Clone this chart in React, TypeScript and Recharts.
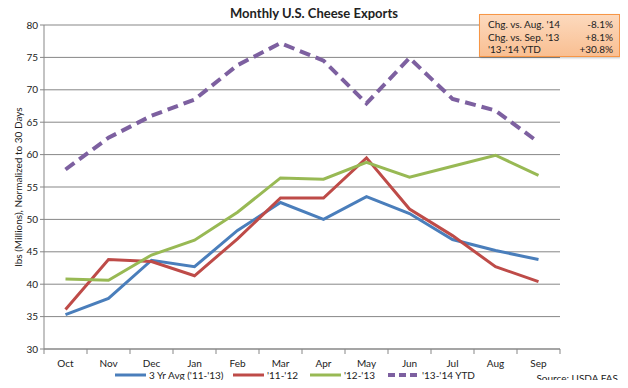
import { LineChart, Line, XAxis, YAxis, CartesianGrid } from 'recharts'

const months = ['Oct', 'Nov', 'Dec', 'Jan', 'Feb', 'Mar', 'Apr', 'May', 'Jun', 'Jul', 'Aug', 'Sep']
const avg3yr = [35.3, 37.8, 43.7, 42.7, 48.3, 52.6, 50.0, 53.5, 50.9, 46.9, 45.2, 43.8]
const y1112 = [36.1, 43.8, 43.5, 41.3, 47.0, 53.3, 53.3, 59.5, 51.6, 47.5, 42.7, 40.4]
const y1213 = [40.8, 40.6, 44.5, 46.8, 51.1, 56.4, 56.2, 58.8, 56.5, 58.2, 59.9, 56.8]
const y1314 = [57.7, 62.6, 66.0, 68.5, 73.8, 77.2, 74.5, 67.9, 74.9, 68.6, 66.8, 61.9]
const yTicks = [30, 35, 40, 45, 50, 55, 60, 65, 70, 75, 80]

const changeRows = [
  ['Chg. vs. Aug. \'14', '-8.1%'],
  ['Chg. vs. Sep. \'13', '+8.1%'],
  ['\'13-\'14 YTD', '+30.8%'],
]

const data = months.map((m, i) => ({
  month: m,
  avg: avg3yr[i],
  a: y1112[i],
  b: y1213[i],
  c: y1314[i],
}))

const font = 'Lato, "Open Sans", sans-serif'
const gridColor = '#878787'
const band = 43

const MonthTick = (props: any) => {
  const { x, y, payload, index } = props
  const half = band / 2
  return (
    <g>
      <line x1={x - half} x2={x - half} y1={y - 8} y2={y - 3} stroke={gridColor} />
      {index === months.length - 1 && (
        <line x1={x + half} x2={x + half} y1={y - 8} y2={y - 3} stroke={gridColor} />
      )}
      <text x={x} y={y + 10} textAnchor="middle" fontSize={10} fill="#222" fontFamily={font}>
        {payload.value}
      </text>
    </g>
  )
}

const legendItems = [
  { label: "3 Yr Avg ('11-'13)", color: '#4a7ebb', dash: false, x: 115 },
  { label: "'11-'12", color: '#be4b48', dash: false, x: 233 },
  { label: "'12-'13", color: '#98b954', dash: false, x: 310 },
  { label: "'13-'14 YTD", color: '#7d60a0', dash: true, x: 388 },
]

export default function App() {
  return (
    <div style={{ position: 'relative', width: 628, height: 388, margin: -8, background: '#fff', fontFamily: font }}>
      <div style={{ position: 'absolute', top: 5, left: 0, width: 628, textAlign: 'center', fontSize: 13, fontWeight: 'bold', color: '#222' }}>
        Monthly U.S. Cheese Exports
      </div>
      <LineChart width={628} height={388} data={data} margin={{ top: 25, right: 68, bottom: 19, left: 10 }}>
        <CartesianGrid vertical={false} stroke={gridColor} />
        <XAxis
          dataKey="month"
          axisLine={{ stroke: gridColor }}
          tickLine={false}
          tick={<MonthTick />}
          height={20}
          interval={0}
          padding={{ left: band / 2, right: band / 2 }}
        />
        <YAxis
          domain={[30, 80]}
          ticks={yTicks}
          width={34}
          axisLine={{ stroke: gridColor }}
          tickLine={{ stroke: gridColor }}
          tickSize={4}
          tick={{ fontSize: 10, fill: '#222', fontFamily: font }}
        />
        <Line dataKey="avg" stroke="#4a7ebb" strokeWidth={3} dot={false} isAnimationActive={false} />
        <Line dataKey="a" stroke="#be4b48" strokeWidth={3} dot={false} isAnimationActive={false} />
        <Line dataKey="b" stroke="#98b954" strokeWidth={3} dot={false} isAnimationActive={false} />
        <Line dataKey="c" stroke="#7d60a0" strokeWidth={4} strokeDasharray="11 6" dot={false} isAnimationActive={false} />
      </LineChart>

      <svg style={{ position: 'absolute', left: 0, top: 0 }} width={40} height={388}>
        <text
          transform="translate(22 187) rotate(-90)"
          textAnchor="middle"
          fontSize={10}
          fill="#222"
          fontFamily={font}
        >
          lbs (Millions), Normalized to 30 Days
        </text>
      </svg>

      <svg style={{ position: 'absolute', left: 0, top: 366 }} width={628} height={22}>
        {legendItems.map((it) => (
          <g key={it.label}>
            <line
              x1={it.x}
              x2={it.x + 31}
              y1={9}
              y2={9}
              stroke={it.color}
              strokeWidth={it.dash ? 4 : 3}
              strokeDasharray={it.dash ? '7 4' : undefined}
            />
            <text x={it.x + 34} y={13} fontSize={10} fill="#222" fontFamily={font}>{it.label}</text>
          </g>
        ))}
        <text x={618} y={16} textAnchor="end" fontSize={10} fill="#222" fontFamily={font}>Source: USDA FAS</text>
      </svg>

      <div
        style={{
          position: 'absolute', left: 479, top: 14, width: 141, height: 43,
          boxSizing: 'border-box', border: '1px solid #f79646',
          background: 'linear-gradient(#fcd9bd, #f9bf92)',
          boxShadow: '1px 1px 2px rgba(0,0,0,0.25)',
          fontSize: 10, color: '#222', padding: '3px 6px 0 8px',
        }}
      >
        {changeRows.map(([k, v]) => (
          <div key={k} style={{ display: 'flex', justifyContent: 'space-between', lineHeight: '12.5px' }}>
            <span>{k}</span>
            <span>{v}</span>
          </div>
        ))}
      </div>
    </div>
  )
}
